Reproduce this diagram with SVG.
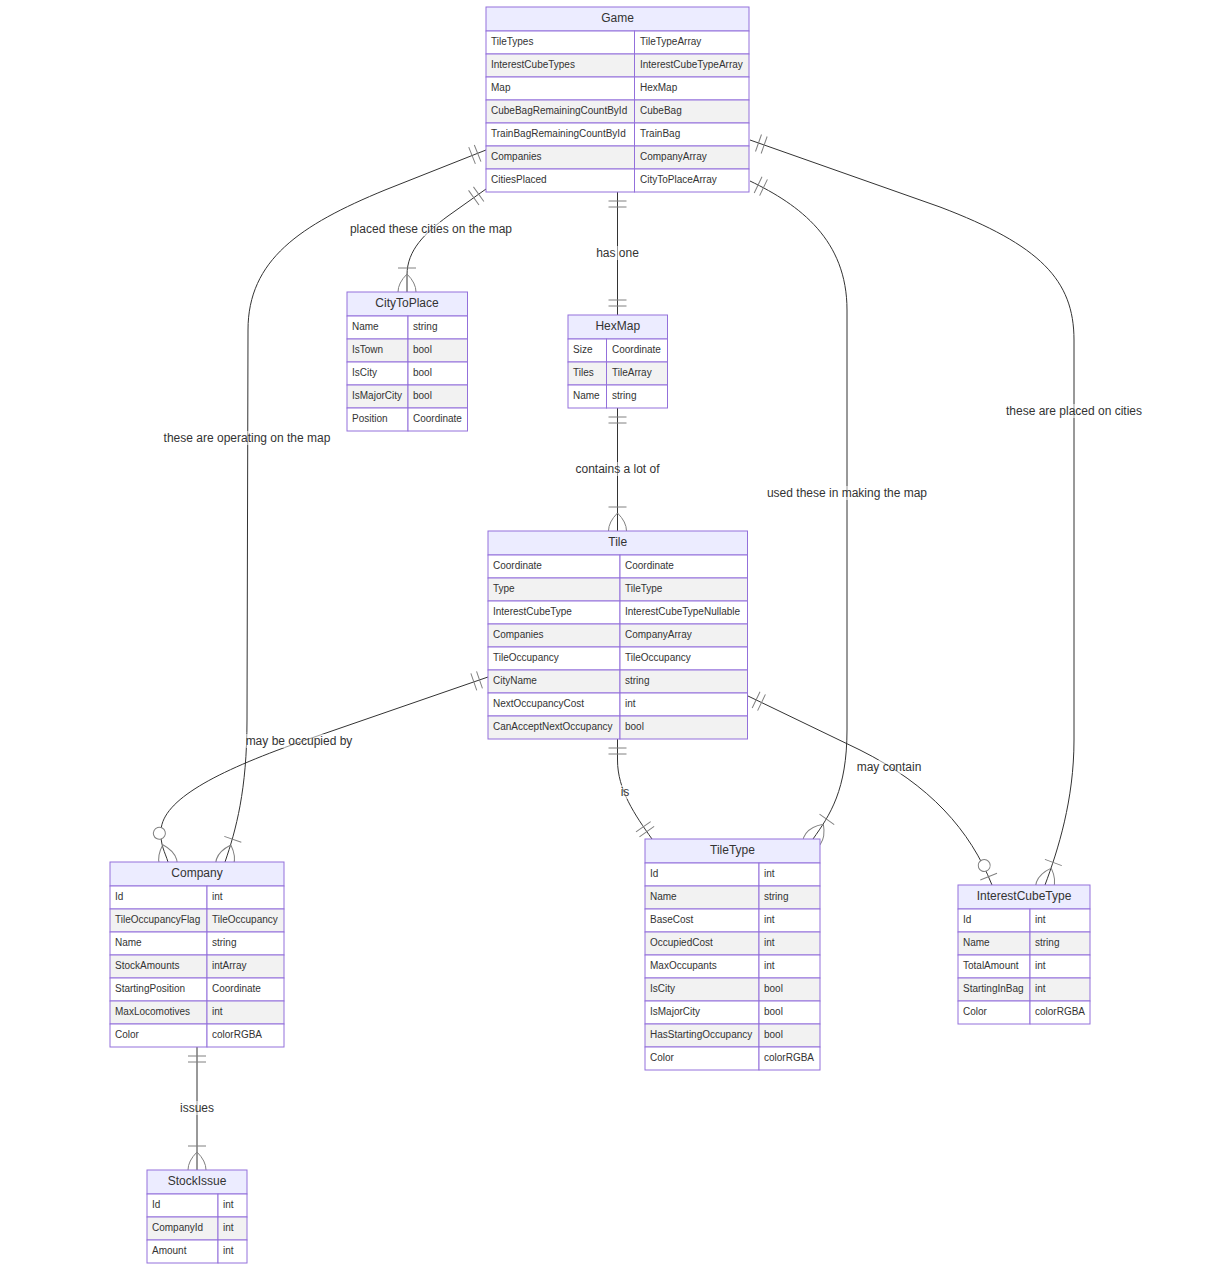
<svg xmlns="http://www.w3.org/2000/svg" width="1209" height="1271" viewBox="0 0 1209 1271">
<style>
  text { font-family: "Liberation Sans", Arial, sans-serif; fill: #333; }
  .title { font-size: 12px; text-anchor: middle; }
  .attr { font-size: 10px; }
  .lbl { font-size: 12px; text-anchor: middle; }
  .lblbox { fill: #ffffff; opacity: 0.5; }
  .box { fill: #ECECFF; stroke: #9370DB; stroke-width: 1; }
  .odd { fill: #ffffff; stroke: #9370DB; stroke-width: 1; }
  .even { fill: #f2f2f2; stroke: #9370DB; stroke-width: 1; }
  .rel { fill: none; stroke: #333; stroke-width: 1; }
  .mk { fill: none; stroke: gray; stroke-width: 1; }
  .mkc { fill: #ffffff; stroke: gray; stroke-width: 1; }
</style>
<defs>
  <marker id="oneStart" refX="0" refY="9" markerWidth="18" markerHeight="18" orient="auto" markerUnits="userSpaceOnUse" overflow="visible"><path class="mk" d="M9,0 L9,18 M15,0 L15,18"/></marker>
  <marker id="oneEnd" refX="18" refY="9" markerWidth="18" markerHeight="18" orient="auto" markerUnits="userSpaceOnUse" overflow="visible"><path class="mk" d="M3,0 L3,18 M9,0 L9,18"/></marker>
  <marker id="oneMoreEnd" refX="27" refY="18" markerWidth="45" markerHeight="36" orient="auto" markerUnits="userSpaceOnUse" overflow="visible"><path class="mk" d="M3,9 L3,27 M9,18 Q27,0 45,18 Q27,36 9,18"/></marker>
  <marker id="zeroMoreEnd" refX="39" refY="18" markerWidth="57" markerHeight="36" orient="auto" markerUnits="userSpaceOnUse" overflow="visible"><circle class="mkc" cx="9" cy="18" r="6"/><path class="mk" d="M21,18 Q39,0 57,18 Q39,36 21,18"/></marker>
  <marker id="zeroOneEnd" refX="30" refY="9" markerWidth="30" markerHeight="18" orient="auto" markerUnits="userSpaceOnUse" overflow="visible"><circle class="mkc" cx="9" cy="9" r="6"/><path class="mk" d="M21,0 L21,18"/></marker>
</defs>
<rect x="0" y="0" width="1209" height="1271" fill="#ffffff"/>

<g id="connectors">
  <path class="rel" d="M486,150 L385,190 C300,225 248,260 248,330 L247,720 C247,790 236,830 225,862" marker-start="url(#oneStart)" marker-end="url(#oneMoreEnd)"/>
  <path class="rel" d="M486,189 L448,216 C425,233 407,250 407,275 L407,292" marker-start="url(#oneStart)" marker-end="url(#oneMoreEnd)"/>
  <path class="rel" d="M617.5,192 L617.5,315" marker-start="url(#oneStart)" marker-end="url(#oneEnd)"/>
  <path class="rel" d="M617.5,408 L617.5,531" marker-start="url(#oneStart)" marker-end="url(#oneMoreEnd)"/>
  <path class="rel" d="M750,181 C800,205 847,240 847,310 L847,730 C847,790 830,815 813,839" marker-start="url(#oneStart)" marker-end="url(#oneMoreEnd)"/>
  <path class="rel" d="M750,140 L940,207 C1040,245 1074,280 1074,340 L1074,740 C1074,800 1058,850 1045,885" marker-start="url(#oneStart)" marker-end="url(#oneMoreEnd)"/>
  <path class="rel" d="M488,677 L300,742 C215,772 163,800 161,830 C160,845 165,852 168,862" marker-start="url(#oneStart)" marker-end="url(#zeroMoreEnd)"/>
  <path class="rel" d="M617.5,739 L617.5,760 C617.5,790 635,815 652,839" marker-start="url(#oneStart)" marker-end="url(#oneEnd)"/>
  <path class="rel" d="M748,696 L860,750 C930,785 970,830 992,885" marker-start="url(#oneStart)" marker-end="url(#zeroOneEnd)"/>
  <path class="rel" d="M197,1047 L197,1170" marker-start="url(#oneStart)" marker-end="url(#oneMoreEnd)"/>

  <rect class="lblbox" x="350" y="222" width="162" height="14"/><text class="lbl" x="431" y="233">placed these cities on the map</text>
  <rect class="lblbox" x="596" y="246" width="43" height="14"/><text class="lbl" x="617.5" y="257">has one</text>
  <rect class="lblbox" x="576" y="462" width="84" height="14"/><text class="lbl" x="617.5" y="473">contains a lot of</text>
  <rect class="lblbox" x="164" y="431" width="167" height="14"/><text class="lbl" x="247" y="442">these are operating on the map</text>
  <rect class="lblbox" x="767" y="486" width="160" height="14"/><text class="lbl" x="847" y="497">used these in making the map</text>
  <rect class="lblbox" x="1006" y="404" width="136" height="14"/><text class="lbl" x="1074" y="415">these are placed on cities</text>
  <rect class="lblbox" x="246" y="734" width="107" height="14"/><text class="lbl" x="299" y="745">may be occupied by</text>
  <rect class="lblbox" x="620" y="785" width="10" height="14"/><text class="lbl" x="625" y="796">is</text>
  <rect class="lblbox" x="857" y="760" width="65" height="14"/><text class="lbl" x="889" y="771">may contain</text>
  <rect class="lblbox" x="180" y="1101" width="34" height="14"/><text class="lbl" x="197" y="1112">issues</text>
</g>

<g id="Game">
  <rect class="box" x="486" y="7" width="263" height="24"/>
  <text class="title" x="617.5" y="22">Game</text>
  <rect class="odd" x="486" y="31" width="148.5" height="23"/><rect class="odd" x="634.5" y="31" width="114.5" height="23"/>
  <rect class="even" x="486" y="54" width="148.5" height="23"/><rect class="even" x="634.5" y="54" width="114.5" height="23"/>
  <rect class="odd" x="486" y="77" width="148.5" height="23"/><rect class="odd" x="634.5" y="77" width="114.5" height="23"/>
  <rect class="even" x="486" y="100" width="148.5" height="23"/><rect class="even" x="634.5" y="100" width="114.5" height="23"/>
  <rect class="odd" x="486" y="123" width="148.5" height="23"/><rect class="odd" x="634.5" y="123" width="114.5" height="23"/>
  <rect class="even" x="486" y="146" width="148.5" height="23"/><rect class="even" x="634.5" y="146" width="114.5" height="23"/>
  <rect class="odd" x="486" y="169" width="148.5" height="23"/><rect class="odd" x="634.5" y="169" width="114.5" height="23"/>
  <text class="attr" x="491" y="45">TileTypes</text><text class="attr" x="640" y="45">TileTypeArray</text>
  <text class="attr" x="491" y="68">InterestCubeTypes</text><text class="attr" x="640" y="68">InterestCubeTypeArray</text>
  <text class="attr" x="491" y="91">Map</text><text class="attr" x="640" y="91">HexMap</text>
  <text class="attr" x="491" y="114">CubeBagRemainingCountById</text><text class="attr" x="640" y="114">CubeBag</text>
  <text class="attr" x="491" y="137">TrainBagRemainingCountById</text><text class="attr" x="640" y="137">TrainBag</text>
  <text class="attr" x="491" y="160">Companies</text><text class="attr" x="640" y="160">CompanyArray</text>
  <text class="attr" x="491" y="183">CitiesPlaced</text><text class="attr" x="640" y="183">CityToPlaceArray</text>
</g>

<g id="CityToPlace">
  <rect class="box" x="347" y="292" width="120.5" height="24"/>
  <text class="title" x="407" y="307">CityToPlace</text>
  <rect class="odd" x="347" y="316" width="61" height="23"/><rect class="odd" x="408" y="316" width="59.5" height="23"/>
  <rect class="even" x="347" y="339" width="61" height="23"/><rect class="even" x="408" y="339" width="59.5" height="23"/>
  <rect class="odd" x="347" y="362" width="61" height="23"/><rect class="odd" x="408" y="362" width="59.5" height="23"/>
  <rect class="even" x="347" y="385" width="61" height="23"/><rect class="even" x="408" y="385" width="59.5" height="23"/>
  <rect class="odd" x="347" y="408" width="61" height="23"/><rect class="odd" x="408" y="408" width="59.5" height="23"/>
  <text class="attr" x="352" y="330">Name</text><text class="attr" x="413" y="330">string</text>
  <text class="attr" x="352" y="353">IsTown</text><text class="attr" x="413" y="353">bool</text>
  <text class="attr" x="352" y="376">IsCity</text><text class="attr" x="413" y="376">bool</text>
  <text class="attr" x="352" y="399">IsMajorCity</text><text class="attr" x="413" y="399">bool</text>
  <text class="attr" x="352" y="422">Position</text><text class="attr" x="413" y="422">Coordinate</text>
</g>

<g id="HexMap">
  <rect class="box" x="568" y="315" width="99.5" height="24"/>
  <text class="title" x="617.75" y="330">HexMap</text>
  <rect class="odd" x="568" y="339" width="38.5" height="23"/><rect class="odd" x="606.5" y="339" width="61" height="23"/>
  <rect class="even" x="568" y="362" width="38.5" height="23"/><rect class="even" x="606.5" y="362" width="61" height="23"/>
  <rect class="odd" x="568" y="385" width="38.5" height="23"/><rect class="odd" x="606.5" y="385" width="61" height="23"/>
  <text class="attr" x="573" y="353">Size</text><text class="attr" x="612" y="353">Coordinate</text>
  <text class="attr" x="573" y="376">Tiles</text><text class="attr" x="612" y="376">TileArray</text>
  <text class="attr" x="573" y="399">Name</text><text class="attr" x="612" y="399">string</text>
</g>

<g id="Tile">
  <rect class="box" x="488" y="531" width="259.5" height="24"/>
  <text class="title" x="617.75" y="546">Tile</text>
  <rect class="odd" x="488" y="555" width="132" height="23"/><rect class="odd" x="620" y="555" width="127.5" height="23"/>
  <rect class="even" x="488" y="578" width="132" height="23"/><rect class="even" x="620" y="578" width="127.5" height="23"/>
  <rect class="odd" x="488" y="601" width="132" height="23"/><rect class="odd" x="620" y="601" width="127.5" height="23"/>
  <rect class="even" x="488" y="624" width="132" height="23"/><rect class="even" x="620" y="624" width="127.5" height="23"/>
  <rect class="odd" x="488" y="647" width="132" height="23"/><rect class="odd" x="620" y="647" width="127.5" height="23"/>
  <rect class="even" x="488" y="670" width="132" height="23"/><rect class="even" x="620" y="670" width="127.5" height="23"/>
  <rect class="odd" x="488" y="693" width="132" height="23"/><rect class="odd" x="620" y="693" width="127.5" height="23"/>
  <rect class="even" x="488" y="716" width="132" height="23"/><rect class="even" x="620" y="716" width="127.5" height="23"/>
  <text class="attr" x="493" y="569">Coordinate</text><text class="attr" x="625" y="569">Coordinate</text>
  <text class="attr" x="493" y="592">Type</text><text class="attr" x="625" y="592">TileType</text>
  <text class="attr" x="493" y="615">InterestCubeType</text><text class="attr" x="625" y="615">InterestCubeTypeNullable</text>
  <text class="attr" x="493" y="638">Companies</text><text class="attr" x="625" y="638">CompanyArray</text>
  <text class="attr" x="493" y="661">TileOccupancy</text><text class="attr" x="625" y="661">TileOccupancy</text>
  <text class="attr" x="493" y="684">CityName</text><text class="attr" x="625" y="684">string</text>
  <text class="attr" x="493" y="707">NextOccupancyCost</text><text class="attr" x="625" y="707">int</text>
  <text class="attr" x="493" y="730">CanAcceptNextOccupancy</text><text class="attr" x="625" y="730">bool</text>
</g>

<g id="Company">
  <rect class="box" x="110" y="862" width="174" height="24"/>
  <text class="title" x="197" y="877">Company</text>
  <rect class="odd" x="110" y="886" width="97" height="23"/><rect class="odd" x="207" y="886" width="77" height="23"/>
  <rect class="even" x="110" y="909" width="97" height="23"/><rect class="even" x="207" y="909" width="77" height="23"/>
  <rect class="odd" x="110" y="932" width="97" height="23"/><rect class="odd" x="207" y="932" width="77" height="23"/>
  <rect class="even" x="110" y="955" width="97" height="23"/><rect class="even" x="207" y="955" width="77" height="23"/>
  <rect class="odd" x="110" y="978" width="97" height="23"/><rect class="odd" x="207" y="978" width="77" height="23"/>
  <rect class="even" x="110" y="1001" width="97" height="23"/><rect class="even" x="207" y="1001" width="77" height="23"/>
  <rect class="odd" x="110" y="1024" width="97" height="23"/><rect class="odd" x="207" y="1024" width="77" height="23"/>
  <text class="attr" x="115" y="900">Id</text><text class="attr" x="212" y="900">int</text>
  <text class="attr" x="115" y="923">TileOccupancyFlag</text><text class="attr" x="212" y="923">TileOccupancy</text>
  <text class="attr" x="115" y="946">Name</text><text class="attr" x="212" y="946">string</text>
  <text class="attr" x="115" y="969">StockAmounts</text><text class="attr" x="212" y="969">intArray</text>
  <text class="attr" x="115" y="992">StartingPosition</text><text class="attr" x="212" y="992">Coordinate</text>
  <text class="attr" x="115" y="1015">MaxLocomotives</text><text class="attr" x="212" y="1015">int</text>
  <text class="attr" x="115" y="1038">Color</text><text class="attr" x="212" y="1038">colorRGBA</text>
</g>

<g id="TileType">
  <rect class="box" x="645" y="839" width="175" height="24"/>
  <text class="title" x="732.5" y="854">TileType</text>
  <rect class="odd" x="645" y="863" width="114" height="23"/><rect class="odd" x="759" y="863" width="61" height="23"/>
  <rect class="even" x="645" y="886" width="114" height="23"/><rect class="even" x="759" y="886" width="61" height="23"/>
  <rect class="odd" x="645" y="909" width="114" height="23"/><rect class="odd" x="759" y="909" width="61" height="23"/>
  <rect class="even" x="645" y="932" width="114" height="23"/><rect class="even" x="759" y="932" width="61" height="23"/>
  <rect class="odd" x="645" y="955" width="114" height="23"/><rect class="odd" x="759" y="955" width="61" height="23"/>
  <rect class="even" x="645" y="978" width="114" height="23"/><rect class="even" x="759" y="978" width="61" height="23"/>
  <rect class="odd" x="645" y="1001" width="114" height="23"/><rect class="odd" x="759" y="1001" width="61" height="23"/>
  <rect class="even" x="645" y="1024" width="114" height="23"/><rect class="even" x="759" y="1024" width="61" height="23"/>
  <rect class="odd" x="645" y="1047" width="114" height="23"/><rect class="odd" x="759" y="1047" width="61" height="23"/>
  <text class="attr" x="650" y="877">Id</text><text class="attr" x="764" y="877">int</text>
  <text class="attr" x="650" y="900">Name</text><text class="attr" x="764" y="900">string</text>
  <text class="attr" x="650" y="923">BaseCost</text><text class="attr" x="764" y="923">int</text>
  <text class="attr" x="650" y="946">OccupiedCost</text><text class="attr" x="764" y="946">int</text>
  <text class="attr" x="650" y="969">MaxOccupants</text><text class="attr" x="764" y="969">int</text>
  <text class="attr" x="650" y="992">IsCity</text><text class="attr" x="764" y="992">bool</text>
  <text class="attr" x="650" y="1015">IsMajorCity</text><text class="attr" x="764" y="1015">bool</text>
  <text class="attr" x="650" y="1038">HasStartingOccupancy</text><text class="attr" x="764" y="1038">bool</text>
  <text class="attr" x="650" y="1061">Color</text><text class="attr" x="764" y="1061">colorRGBA</text>
</g>

<g id="InterestCubeType">
  <rect class="box" x="958" y="885" width="132" height="24"/>
  <text class="title" x="1024" y="900">InterestCubeType</text>
  <rect class="odd" x="958" y="909" width="72" height="23"/><rect class="odd" x="1030" y="909" width="60" height="23"/>
  <rect class="even" x="958" y="932" width="72" height="23"/><rect class="even" x="1030" y="932" width="60" height="23"/>
  <rect class="odd" x="958" y="955" width="72" height="23"/><rect class="odd" x="1030" y="955" width="60" height="23"/>
  <rect class="even" x="958" y="978" width="72" height="23"/><rect class="even" x="1030" y="978" width="60" height="23"/>
  <rect class="odd" x="958" y="1001" width="72" height="23"/><rect class="odd" x="1030" y="1001" width="60" height="23"/>
  <text class="attr" x="963" y="923">Id</text><text class="attr" x="1035" y="923">int</text>
  <text class="attr" x="963" y="946">Name</text><text class="attr" x="1035" y="946">string</text>
  <text class="attr" x="963" y="969">TotalAmount</text><text class="attr" x="1035" y="969">int</text>
  <text class="attr" x="963" y="992">StartingInBag</text><text class="attr" x="1035" y="992">int</text>
  <text class="attr" x="963" y="1015">Color</text><text class="attr" x="1035" y="1015">colorRGBA</text>
</g>

<g id="StockIssue">
  <rect class="box" x="147" y="1170" width="100" height="24"/>
  <text class="title" x="197" y="1185">StockIssue</text>
  <rect class="odd" x="147" y="1194" width="71" height="23"/><rect class="odd" x="218" y="1194" width="29" height="23"/>
  <rect class="even" x="147" y="1217" width="71" height="23"/><rect class="even" x="218" y="1217" width="29" height="23"/>
  <rect class="odd" x="147" y="1240" width="71" height="23"/><rect class="odd" x="218" y="1240" width="29" height="23"/>
  <text class="attr" x="152" y="1208">Id</text><text class="attr" x="223" y="1208">int</text>
  <text class="attr" x="152" y="1231">CompanyId</text><text class="attr" x="223" y="1231">int</text>
  <text class="attr" x="152" y="1254">Amount</text><text class="attr" x="223" y="1254">int</text>
</g>
</svg>
